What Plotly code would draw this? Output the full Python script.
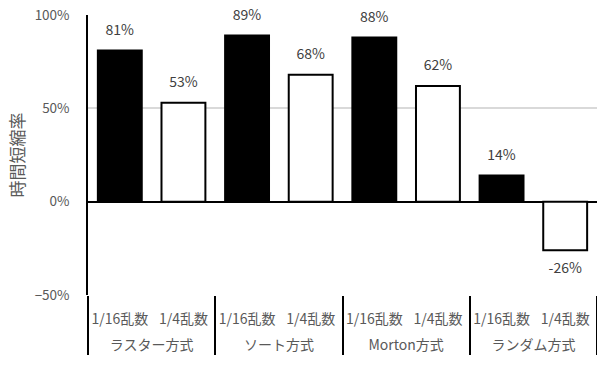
import plotly.graph_objects as go

# Data: time reduction rate per traversal method and random-sample ratio
methods = ["ラスター方式", "ソート方式", "Morton方式", "ランダム方式"]
ratios = ["1/16乱数", "1/4乱数"]
rate_1_16 = [0.81, 0.89, 0.88, 0.14]
rate_1_4 = [0.53, 0.68, 0.62, -0.26]

# Interleave into one multicategory sequence; the group name gets a small
# spacer line above it so it sits lower under the sub-category labels
spacer = "<span style='font-size:9px'>&nbsp;</span><br>"
x_group, x_sub, values, fills = [], [], [], []
for m, a, b in zip(methods, rate_1_16, rate_1_4):
    x_group += [spacer + m, spacer + m]
    x_sub += ratios
    values += [a, b]
    fills += ["black", "white"]

labels = [f"{round(v * 100)}%" for v in values]

font_family = "Noto Sans CJK JP, Noto Sans, sans-serif"
gray = "#595959"

fig = go.Figure()
fig.add_trace(go.Bar(
    x=[x_group, x_sub],
    y=values,
    marker=dict(color=fills, line=dict(color="black", width=2)),
    width=0.69,
    hoverinfo="skip",
    showlegend=False,
))
# Value labels, offset from the bar ends by an invisible marker
fig.add_trace(go.Scatter(
    x=[x_group, x_sub],
    y=values,
    mode="markers+text",
    text=labels,
    textposition=["top center" if v >= 0 else "bottom center" for v in values],
    textfont=dict(family=font_family, size=14, color="#404040"),
    marker=dict(size=18, color="rgba(0,0,0,0)"),
    cliponaxis=False,
    hoverinfo="skip",
    showlegend=False,
))

fig.update_layout(
    width=597,
    height=374,
    margin=dict(l=88, r=0, t=15, b=79, autoexpand=False),
    paper_bgcolor="white",
    plot_bgcolor="white",
    font=dict(family=font_family, color=gray, size=14),
    bargap=0.31,
)
fig.update_yaxes(
    range=[-0.5, 1.0],
    tickvals=[-0.5, 0, 0.5, 1.0],
    tickformat=".0%",
    showgrid=True,
    gridcolor="#d9d9d9",
    gridwidth=1.5,
    zeroline=True,
    zerolinecolor="black",
    zerolinewidth=1.5,
    showline=True,
    linecolor="black",
    linewidth=1.5,
    ticks="",
    ticklabelstandoff=14,
    automargin=False,
    tickfont=dict(size=13.5, color=gray),
    title=dict(text="時間短縮率", font=dict(size=17, color=gray), standoff=6),
)
fig.update_xaxes(
    type="multicategory",
    range=[-0.5, len(values) - 0.5],
    showline=False,
    showgrid=False,
    showdividers=True,
    dividercolor="black",
    dividerwidth=1.5,
    tickangle=0,
    ticklabelstandoff=14,
    automargin=False,
    tickfont=dict(size=14, color=gray),
)

fig.write_html("out.html")
